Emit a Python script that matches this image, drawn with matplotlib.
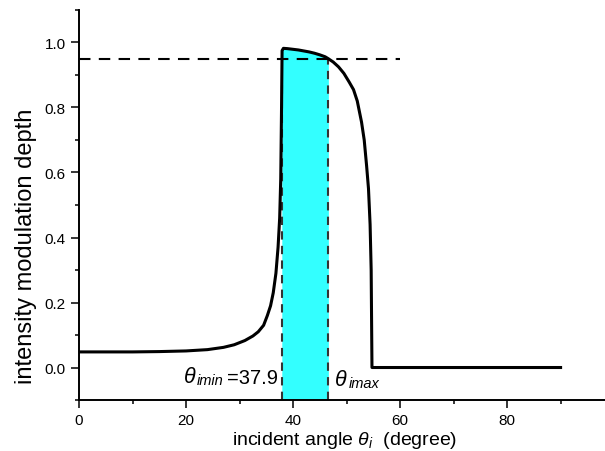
import numpy as np
import matplotlib
matplotlib.use('Agg')
import matplotlib.pyplot as plt
from matplotlib.ticker import MultipleLocator

plt.rcParams['font.family'] = ['Liberation Sans', 'DejaVu Sans']
plt.rcParams['mathtext.fontset'] = 'custom'
plt.rcParams['mathtext.it'] = 'Liberation Sans:italic'
plt.rcParams['mathtext.rm'] = 'Liberation Sans'

# modulation depth vs incident angle
angle = [0, 5, 10, 15, 20, 24, 27, 29, 31, 32.5, 33.5, 34.5, 35.2, 35.8, 36.3,
         36.8, 37.2, 37.5, 37.7, 37.85, 37.95, 38.2, 39, 40, 41, 42, 43, 44, 45,
         46, 46.6, 47.5, 48.5, 49.5, 50.5, 51.3, 52, 52.8, 53.3, 53.75, 54.1,
         54.4, 54.6, 54.7, 54.75, 60, 70, 80, 90]
depth = [0.048, 0.048, 0.048, 0.049, 0.051, 0.055, 0.062, 0.070, 0.083, 0.097,
         0.11, 0.13, 0.16, 0.19, 0.23, 0.29, 0.37, 0.46, 0.58, 0.80, 0.975, 0.982,
         0.981, 0.979, 0.977, 0.974, 0.971, 0.967, 0.962, 0.956, 0.950, 0.940,
         0.925, 0.905, 0.878, 0.855, 0.82, 0.755, 0.70, 0.62, 0.55, 0.44, 0.30,
         0.10, 0.0, 0.0, 0.0, 0.0, 0.0]
theta_min = 37.9
theta_max = 46.6
threshold = 0.95

fig = plt.figure(figsize=(6.05, 4.52), dpi=100)
ax = fig.add_axes([0.1306, 0.1128, 0.8694, 0.8629])

# shaded band under the curve
xs = np.linspace(theta_min, theta_max, 200)
ys = np.interp(xs, angle, depth)
ax.fill_between(xs, -0.1, ys, color='#33ffff', lw=0, zorder=1)

for t in (theta_min, theta_max):
    ax.plot([t, t], [-0.1, np.interp(t, angle, depth)], color='#333333',
            lw=1.5, ls=(0, (4, 3)), zorder=2)

ax.plot([0, 60], [threshold, threshold], color='black', lw=1.5,
        ls=(0, (5.5, 4)), zorder=2)
ax.plot(angle, depth, color='black', lw=2.2, zorder=3)


def theta_label(x, y, sub, tail=''):
    t1 = ax.text(x, y, r'$\theta$', fontsize=15.5, va='baseline', ha='left',
                 style='italic')
    t2 = ax.annotate(sub, xy=(1, 0), xycoords=t1, xytext=(0.5, 0),
                     textcoords='offset points', fontsize=10.5, style='italic',
                     va='bottom', ha='left')
    if tail:
        ax.annotate(tail, xy=(1, 0), xycoords=t2, xytext=(2, 0),
                    textcoords='offset points', fontsize=14.5,
                    va='bottom', ha='left')


theta_label(19.4, -0.046, 'imin', '=37.9')
theta_label(47.7, -0.054, 'imax')

ax.set_xlim(0, 98.3)
ax.set_ylim(-0.1, 1.1)
ax.xaxis.set_major_locator(MultipleLocator(20))
ax.xaxis.set_minor_locator(MultipleLocator(10))
ax.yaxis.set_major_locator(MultipleLocator(0.2))
ax.yaxis.set_minor_locator(MultipleLocator(0.1))
ax.set_xticks([0, 20, 40, 60, 80])
ax.set_yticks([0.0, 0.2, 0.4, 0.6, 0.8, 1.0])
ax.yaxis.set_major_formatter(plt.FuncFormatter(lambda v, p: f'{v:.1f}'))
ax.tick_params(which='major', direction='out', length=6, width=1.1, labelsize=11)
ax.tick_params(axis='x', which='major', pad=3.5)
ax.tick_params(which='minor', direction='out', length=3, width=1.1)
for s in ('top', 'right'):
    ax.spines[s].set_visible(False)
for s in ('left', 'bottom'):
    ax.spines[s].set_linewidth(1.4)

ax.set_xlabel(r'incident angle $\theta_i$  (degree)', fontsize=14, va='baseline')
ax.xaxis.set_label_coords(0.504, -0.113)
ax.set_ylabel('intensity modulation depth', fontsize=17, va='center')
ax.yaxis.set_label_coords(-0.1, 0.397)

fig.savefig('out.png', dpi=100)
